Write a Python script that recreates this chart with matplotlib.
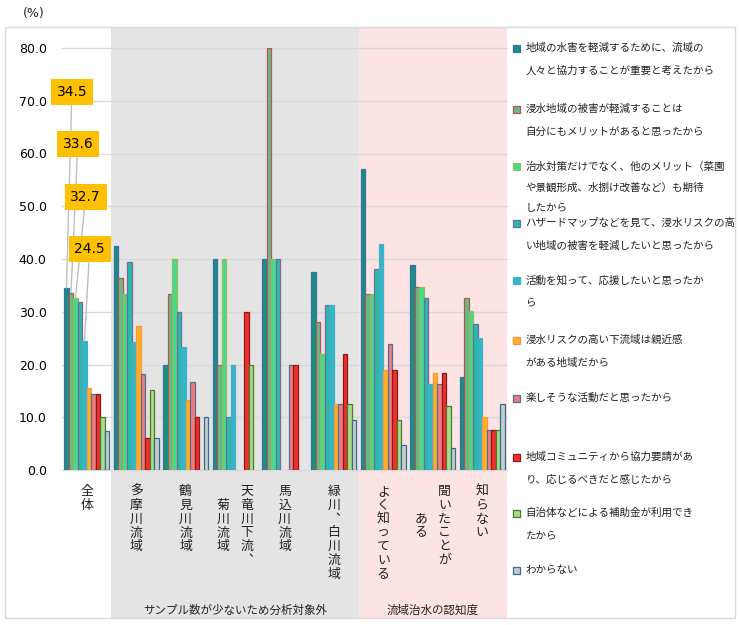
import numpy as np
import matplotlib
matplotlib.use("Agg")
import matplotlib.pyplot as plt
from matplotlib.patches import Rectangle

plt.rcParams['font.family'] = ['DejaVu Sans', 'Noto Sans CJK JP']
JP = ['Noto Sans CJK JP', 'DejaVu Sans']

# groups (x axis), written as vertical columns (right column first)
groups = [["全体"], ["多摩川流域"], ["鶴見川流域"], ["天竜川下流、", "菊川流域"],
          ["馬込川流域"], ["緑川、白川流域"], ["よく知っている"],
          ["聞いたことが", "ある"], ["知らない"]]

reasons = [
    "地域の水害を軽減するために、流域の\n人々と協力することが重要と考えたから",
    "浸水地域の被害が軽減することは\n自分にもメリットがあると思ったから",
    "治水対策だけでなく、他のメリット（菜園\nや景観形成、水捌け改善など）も期待\nしたから",
    "ハザードマップなどを見て、浸水リスクの高\nい地域の被害を軽減したいと思ったから",
    "活動を知って、応援したいと思ったか\nら",
    "浸水リスクの高い下流域は親近感\nがある地域だから",
    "楽しそうな活動だと思ったから",
    "地域コミュニティから協力要請があ\nり、応じるべきだと感じたから",
    "自治体などによる補助金が利用でき\nたから",
    "わからない",
]

# % per group, one value per reason
zentai   = [34.5, 33.6, 32.7, 31.8, 24.5, 15.5, 14.5, 14.5, 10.0, 7.3]
tama     = [42.4, 36.4, 33.3, 39.4, 24.2, 27.3, 18.2, 6.1, 15.2, 6.1]
tsurumi  = [20.0, 33.3, 40.0, 30.0, 23.3, 13.3, 16.7, 10.0, 0.0, 10.0]
tenryu   = [40.0, 20.0, 40.0, 10.0, 20.0, 0.0, 0.0, 30.0, 20.0, 0.0]
magome   = [40.0, 80.0, 40.0, 40.0, 0.0, 0.0, 20.0, 20.0, 0.0, 0.0]
midori   = [37.5, 28.1, 21.9, 31.3, 31.3, 12.5, 12.5, 21.9, 12.5, 9.4]
yoku     = [57.1, 33.3, 33.3, 38.1, 42.9, 19.0, 23.8, 19.0, 9.5, 4.8]
kiita    = [38.8, 34.7, 34.7, 32.7, 16.3, 18.4, 16.3, 18.4, 12.2, 4.1]
shiranai = [17.6, 32.7, 30.1, 27.6, 25.1, 10.1, 7.6, 7.6, 7.6, 12.5]

labelled = [0, 1, 2, 4]  # bars of 全体 with callouts

fills = ['#17907f', '#5fbf8c', '#42dc8e', '#22bfa6', '#2fb8c9',
         '#ffb122', '#f27c7c', '#ef3030', '#a9dc8e', '#c9cccc']
edges = ['#3b6ea5', '#c0504d', '#9bbb59', '#8064a2', '#4bacc6',
         '#f79646', '#4f6f9f', '#8b1a1a', '#4f7a28', '#31708a']

W, H = 740, 625
fig = plt.figure(figsize=(W / 100, H / 100), dpi=100)


def px(x, y):
    return x / W, 1 - y / H


ax_l, ax_r, ax_t, ax_b = 62, 507, 48, 470
ax = fig.add_axes([ax_l / W, 1 - ax_b / H, (ax_r - ax_l) / W, (ax_b - ax_t) / H])
ax.set_facecolor('none')

data = np.array([zentai, tama, tsurumi, tenryu, magome, midori, yoku, kiita, shiranai])
ng, ns = data.shape
x = np.arange(ng)
w = 0.091

# shaded regions
ah = ax_b - ax_t
ymin = (ax_b - 618) / ah
ymax = (ax_b - 27) / ah
ax.axvspan(0.5, 5.5, ymin=ymin, ymax=ymax, color='#e4e4e4', zorder=0, clip_on=False, lw=0)
ax.axvspan(5.5, 8.5, ymin=ymin, ymax=ymax, color='#fce4e4', zorder=0, clip_on=False, lw=0)

for i in range(ns):
    vals = data[:, i]
    ax.bar(x + (i - 4.5) * w, vals, width=w, color=fills[i], edgecolor=edges[i],
           linewidth=np.where(vals > 0, 0.9, 0), zorder=2)

ax.set_xlim(-0.5, ng - 0.5)
ax.set_ylim(0, 80)
ax.set_yticks(np.arange(0, 81, 10))
ax.set_yticklabels([f'{v:.1f}' for v in np.arange(0, 81, 10)], fontsize=9)
ax.tick_params(axis='y', length=0, pad=11)
ax.set_xticks([])
for s in ax.spines.values():
    s.set_visible(False)
ax.yaxis.grid(True, color='#d9d9d9', lw=1)
ax.set_axisbelow(True)
for gl in ax.get_ygridlines():
    gl.set_clip_on(False)

# callouts on 全体
box_pos = [(-0.30, 71.7), (-0.18, 61.8), (-0.02, 51.8), (0.06, 41.9)]
for (bx, by), i in zip(box_pos, labelled):
    v = data[0, i]
    ax.annotate(f'{v:.1f}', xy=(0 + (i - 4.5) * w, v), xytext=(bx, by),
                ha='center', va='center', fontsize=10, annotation_clip=False,
                bbox=dict(boxstyle='square,pad=0.42', fc='#ffc000', ec='none'),
                arrowprops=dict(arrowstyle='-', color='#bfbfbf', lw=1,
                                shrinkA=0, shrinkB=0), zorder=5)

# vertical category labels
step = 13.8
colgap = 23.4
for g, cols in enumerate(groups):
    k = len(cols)
    m = max(len(c) for c in cols)
    for j, col in enumerate(cols):
        dx = ((k - 1) / 2 - j) * colgap
        for n, ch in enumerate(col):
            yc = 491.5 + ((m - len(col)) / 2 + n) * step
            glyph = '︑' if ch == '、' else ch
            ax.annotate(glyph, xy=(g, 0), xycoords=('data', 'axes fraction'),
                        xytext=(dx, -(yc - ax_b)), textcoords='offset pixels',
                        ha='center', va='center', fontsize=9.3, family=JP,
                        annotation_clip=False, color='#222222')

ax.annotate('サンプル数が少ないため分析対象外', xy=(3.0, 0), xycoords=('data', 'axes fraction'),
            xytext=(0, -(610 - ax_b)), textcoords='offset pixels', ha='center', va='center',
            fontsize=8.3, family=JP, annotation_clip=False, color='#222222')
ax.annotate('流域治水の認知度', xy=(7.0, 0), xycoords=('data', 'axes fraction'),
            xytext=(0, -(610 - ax_b)), textcoords='offset pixels', ha='center', va='center',
            fontsize=8.3, family=JP, annotation_clip=False, color='#222222')

fig.text(*px(34, 13), '(%)', ha='center', va='center', fontsize=9, color='#222222')

# legend
entry_y = [48, 109, 167, 223, 280, 340, 398, 457, 513, 570]
for i, (lab, ey) in enumerate(zip(reasons, entry_y)):
    lines = lab.split('\n')
    sp = 20.7 if len(lines) > 2 else 23
    fig.add_artist(Rectangle(px(513, ey + 3.5), 7 / W, 7 / H, transform=fig.transFigure,
                             fc=fills[i], ec=edges[i], lw=0.9))
    for n, ln in enumerate(lines):
        fig.text(*px(525.5, ey + n * sp), ln, ha='left', va='center', fontsize=7.6,
                 family=JP, color='#222222')

# outer frame
fig.add_artist(Rectangle(px(5, 618), 730 / W, 591 / H, transform=fig.transFigure,
                         fill=False, ec='#d9d9d9', lw=1))

fig.savefig('out.png', dpi=100)
